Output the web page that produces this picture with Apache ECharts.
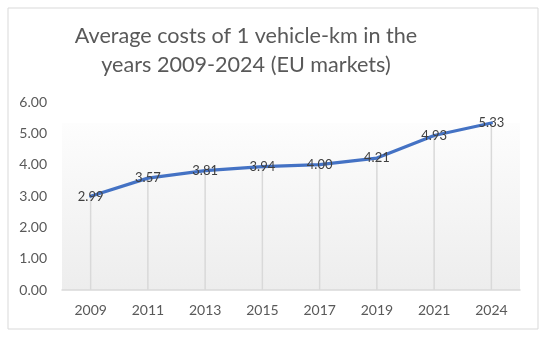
<!DOCTYPE html>
<html><head><meta charset="utf-8">
<script src="https://cdn.jsdelivr.net/npm/echarts@6/dist/echarts.min.js"></script>
<style>html,body{margin:0;padding:0;background:#fff}#c{width:550px;height:338px}</style>
</head><body><div id="c"></div>
<script>
var years = ['2009','2011','2013','2015','2017','2019','2021','2024'];
var costs = [2.99, 3.57, 3.81, 3.94, 4.00, 4.21, 4.93, 5.33];
var yTicks = {min: 0, max: 6, interval: 1};
var titleLines = 'Average costs of 1 vehicle-km in the\nyears 2009-2024 (EU markets)';

var chart = echarts.init(document.getElementById('c'), null, {renderer: 'canvas'});
chart.setOption({
  animation: false,
  backgroundColor: '#ffffff',
  title: {
    text: titleLines,
    left: 241, top: 17, textAlign: 'center',
    textStyle: {fontFamily: 'Lato', fontSize: 21.6, fontWeight: 'normal', color: '#595959', lineHeight: 29}
  },
  graphic: [{
    type: 'rect', shape: {x: 8, y: 8, width: 530, height: 321}, silent: true,
    style: {fill: 'none', stroke: '#d9d9d9', lineWidth: 1}
  }],
  grid: {
    left: 62, right: 30, top: 102, bottom: 48, show: true, borderWidth: 0,
    backgroundColor: {
      type: 'linear', x: 0, y: 0, x2: 0, y2: 1,
      colorStops: [{offset: 0, color: '#ffffff'}, {offset: 0.11, color: '#ffffff'},
                   {offset: 0.112, color: '#fdfdfd'}, {offset: 1, color: '#ededed'}]
    }
  },
  xAxis: {
    type: 'category', data: years, boundaryGap: true,
    axisLine: {lineStyle: {color: '#d9d9d9', width: 1.5}},
    axisTick: {show: false},
    axisLabel: {fontFamily: 'Lato', fontSize: 14, color: '#595959', margin: 13}
  },
  yAxis: {
    type: 'value', min: yTicks.min, max: yTicks.max, interval: yTicks.interval,
    axisLine: {show: false}, axisTick: {show: false}, splitLine: {show: false},
    axisLabel: {fontFamily: 'Lato', fontSize: 14, color: '#595959', margin: 15,
      formatter: function (v) { return v.toFixed(2); }}
  },
  series: [{
    type: 'bar', data: costs, barWidth: 1.5, silent: true,
    itemStyle: {color: '#d9d9d9'}, z: 1
  }, {
    type: 'line', data: costs, z: 3,
    symbol: 'circle', symbolSize: 0.1,
    lineStyle: {color: '#4472C4', width: 3.2, cap: 'round', join: 'round'},
    itemStyle: {color: '#4472C4'},
    label: {show: true, position: 'inside', fontFamily: 'Lato', fontSize: 13, color: '#404040',
      formatter: function (p) { return p.value.toFixed(2); }}
  }]
});
</script></body></html>
